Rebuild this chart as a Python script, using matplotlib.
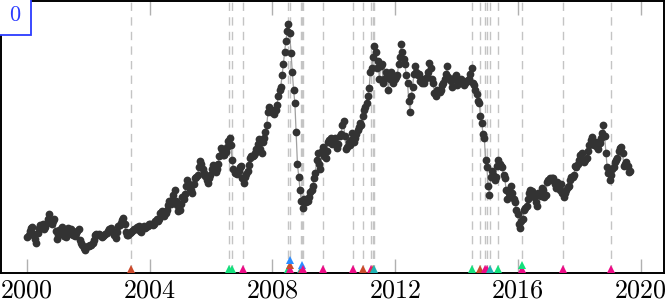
import matplotlib
matplotlib.use("Agg")
import matplotlib.pyplot as plt

# half-monthly price level, Jan 2000 .. Aug 2019
price = {
    2000: [24, 25.5, 27.5, 29, 29.5, 26, 23, 21, 26.5, 29, 30.5, 29,
           31, 28.5, 29.5, 32, 34, 36.5, 33, 31.5, 33, 34, 27.5, 23],
    2001: [25, 28, 28.5, 29.5, 26.5, 24.5, 24, 26.5, 29, 28, 28.5, 26,
           25, 24.5, 26.5, 27.5, 28.5, 22.5, 21, 20, 18, 17, 18.5, 19.5],
    2002: [19.5, 20, 20, 21, 22.5, 25, 26, 25, 26, 25, 24, 24.5,
           25.5, 26, 26.5, 27.5, 28.5, 29, 28, 27, 25, 23.5, 27, 30],
    2003: [30.5, 32, 33.5, 34.5, 31, 27, 25, 25.5, 26.5, 27, 27.5, 28.5,
           28.5, 28.5, 29.5, 30, 27.5, 27, 29.5, 30, 29, 29.5, 30, 31],
    2004: [31, 31, 30.5, 31.5, 33, 34, 33, 34, 37, 38.5, 36, 35.5,
           37, 39, 41.5, 43.5, 42, 44.5, 47, 49.5, 44, 41.5, 38.5, 39],
    2005: [42, 46, 45, 47.5, 52, 55, 53, 50.5, 50, 48, 53, 56,
           57, 58, 62, 65.5, 64, 61, 59, 57.5, 55, 53.5, 56, 58],
    2006: [61, 63.5, 61, 59.5, 61, 64, 68, 72.5, 71.5, 69, 69, 70.5,
           73, 76.5, 78, 74, 66, 61, 59, 59.5, 58.5, 60, 62, 63],
    2007: [56, 53.5, 57, 58.5, 60, 63.5, 67, 68, 68, 69, 70, 72,
           75, 77.5, 72, 70, 76, 78, 81, 85, 92, 95, 92, 93],
    2008: [92, 91, 93, 96, 101, 104, 106, 112, 118, 125, 131, 136,
           140, 135, 124, 114, 104, 97, 81, 64, 57, 50, 44, 40],
    2009: [45, 44, 43, 43.5, 46, 48.5, 50, 52, 56, 59, 66, 70,
           64, 61, 71, 73, 68, 67, 71, 76, 77, 78, 75, 75.5],
    2010: [78, 75, 72.5, 74.5, 79, 80, 85, 87, 79, 72, 73, 76,
           74, 77, 80.5, 76, 78, 80, 82.5, 84, 86, 85, 90, 93],
    2011: [95, 97, 101, 105, 114, 116, 122, 128, 125, 116, 120, 110,
           117, 118, 108, 110, 114, 112, 104, 110, 114, 111, 108, 110],
    2012: [111, 112, 118, 122, 129, 125, 121, 118, 112, 108, 98, 92,
           101, 106, 113, 117, 114, 112, 113, 109, 108, 110, 108, 110],
    2013: [111, 114, 119, 116, 110, 108, 102.5, 101, 104, 103, 103, 104,
           107, 108, 110, 113, 117, 111, 110, 109, 106, 110, 111, 112],
    2014: [107, 108, 109, 110, 108, 107, 108, 109, 109, 110, 113, 116,
           108, 107, 104, 102, 98, 97, 90, 86, 80, 78, 66, 62],
    2015: [52, 47, 57, 60, 58, 55, 57, 63, 66, 64, 63, 62,
           58, 56, 50, 45, 48, 47, 52, 48, 45, 43, 39, 36.5],
    2016: [31, 29, 33, 34, 39, 40, 41, 45, 48, 49.5, 49, 48,
           46, 43, 41, 48, 47, 46.5, 51, 50, 46, 47, 54, 55],
    2017: [56, 55, 56, 56, 53, 51, 54, 52, 50, 53, 48, 46,
           48, 50, 51.5, 52, 55, 57, 57, 58, 63, 62.5, 64, 66],
    2018: [69, 70, 66, 65, 66, 67, 71, 74, 77, 78.5, 75, 74,
           76, 73, 72, 75.5, 78, 80.5, 85, 79, 70, 62, 59, 55],
    2019: [58, 61, 62, 65, 66, 67, 71, 72.6, 73, 70, 63, 64,
           65, 63, 59.5, 60],
}

# events: decimal year and category
event_dates = [2003.39, 2006.60, 2006.69, 2007.03, 2008.505, 2008.57, 2008.57,
               2008.57, 2008.92, 2008.96, 2008.96, 2009.00, 2009.64, 2010.63,
               2010.96, 2011.22, 2011.27, 2011.31, 2014.50, 2014.77, 2014.92,
               2014.97, 2015.09, 2015.35, 2016.11, 2016.11, 2017.46, 2019.02]
event_kinds = ["r", "g", "g", "m", "g", "m", "r",
               "b", "t", "r", "b", "m", "m", "m",
               "r", "m", "r", "t", "g", "r", "m",
               "m", "t", "g", "m", "g", "m", "m"]
kind_colors = {"r": "#cc4a2c", "g": "#14e07c", "m": "#ec0c86",
               "b": "#2a8cff", "t": "#1fb4b4"}

years = []
values = []
for yr, vals in price.items():
    for h, v in enumerate(vals):
        years.append(yr + (h + 0.5) / 24)
        values.append(v)

fig = plt.figure(figsize=(6.66, 3.01), dpi=100)
ax = fig.add_axes([1 / 666, 28 / 301, 663 / 666, 272 / 301])

for d in sorted(set(event_dates)):
    ax.axvline(d, color="#c4c4c4", lw=1.0, ls=(0, (6, 4.5)), zorder=1)

ax.plot(years, values, color="#a0a0a0", lw=0.9, zorder=2)
ax.plot(years, values, "o", color="#333333", ms=5.6, mew=0, zorder=3)

# stack markers that share a date
seen = {}
for d, k in zip(event_dates, event_kinds):
    lvl = seen.get(d, 0)
    seen[d] = lvl + 1
    ax.plot(d, 7.0 + 2.2 * lvl, "^", color=kind_colors[k], ms=5.5, mew=0,
            zorder=4, clip_on=False)

ax.set_xlim(1999.163, 2020.745)
ax.set_ylim(4.6, 152.5)
ax.set_yticks([])
ax.set_xticks([2000, 2004, 2008, 2012, 2016, 2020])
ax.set_xticklabels(["2000", "2004", "2008", "2012", "2016", "2020"],
                   fontfamily="cmr10", fontsize=18.8)
ax.tick_params(axis="x", direction="in", length=10, width=1, color="#b0b0b0",
               top=True, pad=4)
for s in ax.spines.values():
    s.set_linewidth(1.4)
    s.set_color("black")

fig.text(15 / 666, 1 - 15 / 301, "0", ha="center", va="center",
         color="#2b3bff", fontsize=16, fontfamily="cmr10",
         bbox=dict(boxstyle="square,pad=0.45", fc="white", ec="#2b3bff", lw=1.3))

fig.savefig("out.png", dpi=100)
